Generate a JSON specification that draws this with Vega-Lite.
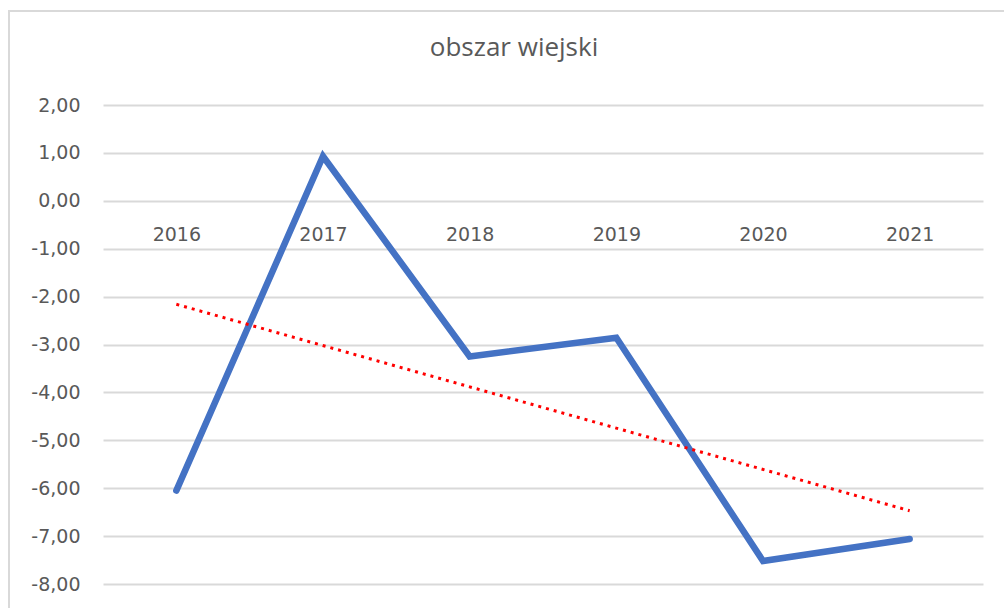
{
  "$schema": "https://vega.github.io/schema/vega-lite/v6.json",
  "autosize": {"type": "none"},
  "padding": {"left": 9, "top": 11, "right": 0, "bottom": 0},
  "width": 1010,
  "height": 620,
  "background": "white",
  "config": {
    "locale": {"number": {"decimal": ",", "thousands": " ", "grouping": [3], "currency": ["", " zł"], "minus": "-"}},
    "view": {"stroke": "#d9d9d9", "strokeWidth": 2},
    "font": "Open Sans"
  },
  "title": {
    "text": "obszar wiejski",
    "fontSize": 26,
    "fontWeight": "normal",
    "color": "#595959",
    "font": "Open Sans",
    "anchor": "middle",
    "frame": "group",
    "offset": -71,
    "baseline": "alphabetic"
  },
  "data": {
    "values": [
      {"year": "2016", "value": -6.05, "trend": -2.16},
      {"year": "2017", "value": 0.93, "trend": null},
      {"year": "2018", "value": -3.25, "trend": null},
      {"year": "2019", "value": -2.86, "trend": null},
      {"year": "2020", "value": -7.52, "trend": null},
      {"year": "2021", "value": -7.06, "trend": -6.47}
    ]
  },
  "encoding": {
    "x": {
      "field": "year",
      "type": "ordinal",
      "scale": {"type": "point", "range": [94, 974], "padding": 0.5},
      "axis": {
        "title": null,
        "orient": "bottom",
        "offset": -430,
        "domain": false,
        "ticks": false,
        "grid": false,
        "labelAngle": 0,
        "labelPadding": 24,
        "labelFontSize": 19,
        "labelColor": "#595959",
        "labelFont": "DejaVu Sans"
      }
    },
    "y": {
      "type": "quantitative",
      "scale": {"domain": [-8, 2], "range": [573, 94], "nice": false, "zero": false},
      "axis": {
        "title": null,
        "offset": -94,
        "values": [-8, -7, -6, -5, -4, -3, -2, -1, 0, 1, 2],
        "format": ",.2f",
        "domain": false,
        "ticks": false,
        "grid": true,
        "gridColor": "#d9d9d9",
        "gridWidth": 2,
        "labelPadding": 23,
        "labelFontSize": 19,
        "labelColor": "#595959",
        "labelFont": "DejaVu Sans"
      }
    }
  },
  "layer": [
    {
      "mark": {"type": "line", "color": "#4472C4", "strokeWidth": 6.5, "strokeCap": "round", "strokeJoin": "miter"},
      "encoding": {"y": {"field": "value", "type": "quantitative"}}
    },
    {
      "transform": [{"filter": "isValid(datum.trend)"}],
      "mark": {"type": "line", "color": "#FF0000", "strokeWidth": 3, "strokeDash": [3, 5]},
      "encoding": {"y": {"field": "trend", "type": "quantitative"}}
    }
  ]
}
